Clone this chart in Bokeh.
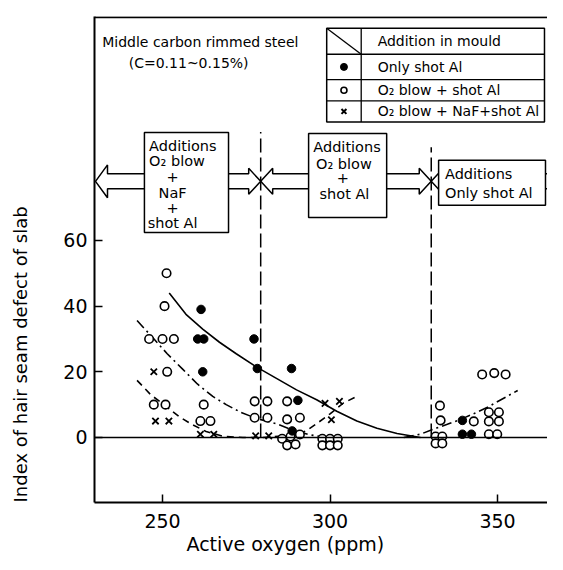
from bokeh.plotting import figure
from bokeh.models import Range1d, FixedTicker, Span, Label, Title
from bokeh.embed import file_html
from bokeh.resources import INLINE

FONT = "DejaVu Sans"

# ---------------- data (active oxygen ppm, index of hair seam defect) ----------------
only_al_x = [261.5, 260.5, 262.3, 262.0, 277.3, 278.3, 288.5, 290.4, 288.7, 339.5, 339.5, 342.2]
only_al_y = [39, 30, 30, 20, 30, 21, 21, 11.3, 2.0, 5.2, 1.0, 1.0]

o2_al_x = [251.2, 250.6, 246.0, 250.0, 253.4, 251.4, 247.4, 250.9, 262.3, 261.3, 264.3,
           277.5, 281.3, 287.2, 277.5, 281.3, 287.2, 291.0,
           285.7, 288.2, 291.0, 287.2, 289.7,
           297.7, 300.0, 302.3, 297.7, 300.0, 302.3,
           332.8, 333.0, 331.5, 333.5, 331.5, 333.5,
           342.9, 347.4, 350.4, 347.4, 350.4, 347.4, 349.9, 345.4, 349.0, 352.4]
o2_al_y = [50, 40, 30, 30, 30, 20, 10, 10, 10, 5, 5,
           11, 11, 11, 6, 6, 5.5, 6,
           -0.4, 0.3, 0.9, -2.4, -2.1,
           -0.4, -0.4, -0.4, -2.4, -2.4, -2.4,
           9.7, 5.2, 0.3, 0.3, -1.8, -1.8,
           4.9, 7.7, 7.7, 4.9, 4.9, 1.0, 1.0, 19.2, 19.6, 19.2]

naf_x = [247.4, 247.9, 251.9, 261.3, 265.3, 277.8, 281.7, 298.5, 302.8, 300.4]
naf_y = [20, 5, 5, 1, 1, 0.5, 0.5, 10.4, 11.0, 5.4]

# fitted trend curves
solid_x = [252, 257, 262, 267, 272, 278, 284, 290, 296, 302, 308, 314, 320, 327]
solid_y = [44, 37.5, 33, 29, 25.5, 21.5, 18, 14.5, 11.5, 8, 5, 2.8, 1.2, 0]

dashdot_l_x = [242.4, 247, 251.4, 256, 260.4, 265, 269, 273.3, 278, 284, 289, 294, 299]
dashdot_l_y = [35.6, 30.5, 25.5, 20.8, 16.3, 12.5, 10, 7.7, 5.8, 4.2, 2.2, 0.8, 0]
dashdot_r_x = [322, 327, 331, 335, 339, 343, 347, 351, 356]
dashdot_r_y = [0, 1, 2.6, 4, 5.5, 7.3, 9.2, 11.5, 14.3]

dashed_x = [242.4, 246.5, 251.4, 255, 258.4, 263, 268.3, 274, 280, 286, 291, 293, 296, 300, 304, 307.6]
dashed_y = [17.4, 13, 9.2, 6.3, 4.2, 1.8, 0.3, 0, 0, 0.5, 1.3, 2.1, 4.2, 7.2, 10.5, 12.3]

x_ticks = [250, 300, 350]
y_ticks = [0, 20, 40, 60]
boundaries = [279.3, 330.2]
boundary_tops = [93.0, 88.4]

# ---------------- figure ----------------
p = figure(width=547, height=556, x_range=Range1d(229.7, 364.9), y_range=Range1d(-19.8, 128.2),
           output_backend="svg", toolbar_location=None,
           min_border_left=94, min_border_right=0, min_border_top=16, min_border_bottom=54)
p.grid.visible = False
p.outline_line_color = None
p.background_fill_color = "white"

for ax in (p.xaxis[0], p.yaxis[0]):
    ax.axis_line_width = 2
    ax.axis_line_color = "black"
    ax.major_tick_in = 8
    ax.major_tick_out = 0
    ax.major_tick_line_width = 1.5
    ax.minor_tick_line_color = None
    ax.major_label_text_font = FONT
    ax.major_label_text_font_size = "19px"
    ax.major_label_text_color = "black"
p.xaxis.ticker = FixedTicker(ticks=x_ticks)
p.yaxis.ticker = FixedTicker(ticks=y_ticks)
p.xaxis.major_label_standoff = 11
p.yaxis.major_label_standoff = 7

p.add_layout(Title(text="Active oxygen (ppm)", align="left", offset=92, standoff=0,
                   text_font=FONT, text_font_size="19px", text_font_style="normal",
                   text_color="black"), "below")
# spacer between y tick labels and the y title
p.add_layout(Title(text=" ", standoff=10, text_font=FONT, text_font_size="10px",
                   text_color="white"), "left")
p.add_layout(Title(text="Index of hair seam defect of slab", align="left", offset=0, standoff=10,
                   vertical_align="top", text_font=FONT, text_font_size="18px",
                   text_font_style="normal", text_color="black"), "left")

# top frame line
p.add_layout(Span(location=128.0, dimension="width", line_color="black", line_width=2))
# zero line
p.add_layout(Span(location=0, dimension="width", line_color="black", line_width=1.3))

# boundaries (vertical dashed)
for bx, bt in zip(boundaries, boundary_tops):
    p.line([bx, bx], [0, bt], line_color="black", line_width=1.5, line_dash="14 5")

# curves
p.line(solid_x, solid_y, line_color="black", line_width=1.6)
p.line(dashdot_l_x, dashdot_l_y, line_color="black", line_width=1.6, line_dash="10 4 2 4")
p.line(dashdot_r_x, dashdot_r_y, line_color="black", line_width=1.6, line_dash="10 4 2 4")
p.line(dashed_x, dashed_y, line_color="black", line_width=1.6, line_dash="7 5")

# points
p.scatter(o2_al_x, o2_al_y, marker="circle", size=8.5, fill_color="white", line_color="black", line_width=1.6)
p.scatter(only_al_x, only_al_y, marker="circle", size=8.5, fill_color="black", line_color="black")
p.scatter(naf_x, naf_y, marker="x", size=9, line_color="black", line_width=1.8)

# ---------------- annotation: arrows & boxes ----------------
C, S, H, HL = 78.0, 2.28, 3.96, 3.58

def arrow(x0, xt, hh=H):
    d = 1 if xt > x0 else -1
    xb = xt - d * HL
    return [x0, xb, xb, xt, xb, xb, x0], [C + S, C + S, C + hh, C, C - hh, C - S, C - S]

arrows = [(244.6, 230.0, 5.0), (269.7, 279.3, H), (293.6, 279.3, H), (316.9, 330.2, H),
          (332.4, 330.2, H), (364.3, 369.5, H)]
axs, ays = [], []
for a0, at, hh in arrows:
    xs, ys = arrow(a0, at, hh)
    axs.append(xs)
    ays.append(ys)
p.multi_line(axs, ays, line_color="black", line_width=1.5)

boxes = [(244.6, 269.7, 62.4, 92.9), (293.6, 316.9, 67.0, 92.6), (332.4, 364.3, 70.7, 84.4)]
p.quad(left=[b[0] for b in boxes], right=[b[1] for b in boxes],
       bottom=[b[2] for b in boxes], top=[b[3] for b in boxes],
       fill_color="white", line_color="black", line_width=1.5)

def txt(x, y, t, align="left", size="14.5px", baseline="middle"):
    p.add_layout(Label(x=x, y=y, text=t, text_font=FONT, text_font_size=size,
                       text_align=align, text_baseline=baseline, text_color="black"))

box1 = [("Additions", "left", 246.0, 88.9), ("O\u2082 blow", "left", 246.0, 84.1),
        ("+", "center", 253.0, 79.3), ("NaF", "center", 253.0, 74.4),
        ("+", "center", 253.0, 69.8), ("shot Al", "center", 253.0, 65.2)]
box2 = [("Additions", "left", 295.0, 88.4), ("O\u2082 blow", "left", 295.8, 83.4),
        ("+", "center", 303.8, 79.1), ("shot Al", "center", 304.3, 74.2)]
box3 = [("Additions", "left", 334.3, 80.2), ("Only shot Al", "left", 334.3, 74.4)]
for t, al, x, y in box1 + box2 + box3:
    txt(x, y, t, align=al)

# ---------------- legend table ----------------
TL, TD, TR = 299.0, 309.3, 364.0
rows = [124.6, 116.7, 109.0, 102.5, 96.1]
p.quad(left=[TL], right=[TR], bottom=[rows[-1]], top=[rows[0]], fill_color="white",
       line_color="black", line_width=1.5)
p.segment(x0=[TL] * 3, y0=rows[1:4], x1=[TR] * 3, y1=rows[1:4], line_color="black", line_width=1.3)
p.segment(x0=[TD, TL], y0=[rows[0], rows[0]], x1=[TD, TD], y1=[rows[-1], rows[1]],
          line_color="black", line_width=1.3)
mids = [(rows[i] + rows[i + 1]) / 2 for i in range(4)]
sx = (TL + TD) / 2
p.scatter([sx], [mids[1]], marker="circle", size=7, fill_color="black", line_color="black")
p.scatter([sx], [mids[2]], marker="circle", size=6, fill_color="white", line_color="black", line_width=1.6)
p.scatter([sx], [mids[3]], marker="x", size=7, line_color="black", line_width=2)
legend_text = ["Addition in mould", "Only shot Al", "O\u2082 blow + shot Al", "O\u2082 blow + NaF+shot Al"]
for t, m in zip(legend_text, mids):
    txt(314.2, m, t, size="14px")

txt(232.0, 120.3, "Middle carbon rimmed steel", size="14px")
txt(257.8, 113.9, "(C=0.11~0.15%)", align="center", size="14px")

open("out.html", "w").write(file_html(p, INLINE))
